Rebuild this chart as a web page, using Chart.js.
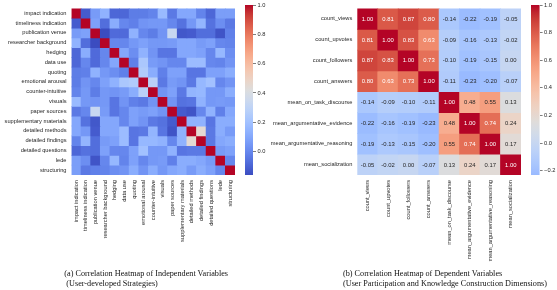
<!DOCTYPE html>
<html>
<head>
<meta charset="utf-8">
<script src="https://cdn.jsdelivr.net/npm/chart.js@4.4.1/dist/chart.umd.min.js"></script>
<style>
  html, body { margin: 0; padding: 0; background: #fff; width: 557px; height: 290px; overflow: hidden; }
  .box { position: absolute; }
  .cap { position: absolute; font-family: "Liberation Serif", "Times New Roman", serif; font-size: 8.2px; line-height: 10px; color: #111; white-space: nowrap; }
</style>
</head>
<body>
<div class="box" style="left:0;top:0"><canvas id="leftMap" width="235" height="270"></canvas></div>
<div class="box" style="left:240px;top:0"><canvas id="leftBar" width="35" height="180"></canvas></div>
<div class="box" style="left:258px;top:0"><canvas id="rightMap" width="263" height="270"></canvas></div>
<div class="box" style="left:525.7px;top:0"><canvas id="rightBar" width="32" height="180"></canvas></div>

<div class="cap" style="left:64.3px;top:269px">(a) Correlation Heatmap of Independent Variables<br>&nbsp;(User-developed Strategies)</div>
<div class="cap" style="left:343px;top:269px">(b) Correlation Heatmap of Dependent Variables<br>(User Participation and Knowledge Construction Dimensions)</div>

<script>
// independent variables (strategies)
const strategyLabels = [
  'impact indication', 'timeliness indication', 'publication venue', 'researcher background',
  'hedging', 'data use', 'quoting', 'emotional arousal', 'counter-intuitive', 'visuals',
  'paper sources', 'supplementary materials', 'detailed methods', 'detailed findings',
  'detailed questions', 'lede', 'structuring',
];

const strategyCorr = [
  [1.00, -0.12, 0.06, 0.14, -0.09, -0.09, -0.03, -0.03, -0.01, 0.17, -0.04, 0.10, 0.10, -0.01, -0.09, 0.07, 0.07],
  [-0.12, 1.00, 0.08, -0.07, 0.12, 0.00, -0.02, 0.04, 0.05, 0.05, 0.00, -0.06, 0.05, 0.15, -0.06, 0.02, -0.04],
  [0.06, 0.08, 1.00, -0.16, -0.08, -0.08, 0.14, 0.00, -0.03, 0.04, 0.33, -0.13, -0.12, -0.07, -0.07, -0.14, -0.02],
  [0.14, -0.07, -0.16, 1.00, 0.00, 0.00, 0.05, 0.08, 0.05, 0.05, 0.06, 0.10, 0.10, 0.06, 0.08, 0.00, -0.01],
  [-0.09, 0.12, -0.08, 0.00, 1.00, 0.10, 0.02, 0.14, 0.04, -0.05, -0.05, 0.10, 0.10, 0.08, 0.00, 0.16, 0.02],
  [-0.09, 0.00, -0.08, 0.00, 0.10, 1.00, -0.02, 0.23, 0.06, 0.04, 0.00, 0.00, 0.18, 0.18, 0.00, -0.01, 0.04],
  [-0.03, -0.02, 0.14, 0.05, 0.02, -0.02, 1.00, 0.25, 0.12, -0.02, 0.08, 0.08, -0.05, -0.05, 0.08, 0.08, 0.12],
  [-0.03, 0.04, 0.00, 0.08, 0.14, 0.23, 0.25, 1.00, 0.28, -0.04, 0.06, 0.04, -0.04, 0.16, 0.20, 0.00, 0.04],
  [-0.01, 0.05, -0.03, 0.05, 0.04, 0.06, 0.12, 0.28, 1.00, 0.04, 0.08, -0.04, 0.15, 0.16, 0.05, 0.05, 0.12],
  [0.17, 0.05, 0.04, 0.05, -0.05, 0.04, -0.02, -0.04, 0.04, 1.00, 0.04, -0.06, -0.05, 0.14, 0.05, 0.06, 0.05],
  [-0.04, 0.00, 0.33, 0.06, -0.05, 0.00, 0.08, 0.06, 0.08, 0.04, 1.00, -0.12, -0.14, 0.00, 0.14, -0.02, 0.10],
  [0.10, -0.06, -0.13, 0.10, 0.10, 0.00, 0.08, 0.04, -0.04, -0.06, -0.12, 1.00, 0.14, 0.14, -0.05, 0.12, 0.12],
  [0.10, 0.05, -0.12, 0.10, 0.10, 0.18, -0.05, -0.04, 0.15, -0.05, -0.14, 0.14, 1.00, 0.45, -0.04, 0.12, 0.06],
  [-0.01, 0.15, -0.07, 0.06, 0.08, 0.18, -0.05, 0.16, 0.16, 0.14, 0.00, 0.14, 0.45, 1.00, -0.04, 0.10, 0.12],
  [-0.09, -0.06, -0.07, 0.08, 0.00, 0.00, 0.08, 0.20, 0.05, 0.05, 0.14, -0.05, -0.04, -0.04, 1.00, 0.06, 0.08],
  [0.07, 0.02, -0.14, 0.00, 0.16, -0.01, 0.08, 0.00, 0.05, 0.06, -0.02, 0.12, 0.12, 0.10, 0.06, 1.00, 0.00],
  [0.07, -0.04, -0.02, -0.01, 0.02, 0.04, 0.12, 0.04, 0.12, 0.05, 0.10, 0.12, 0.06, 0.12, 0.08, 0.00, 1.00],
];

// dependent variables (participation / knowledge construction)
const outcomeLabels = [
  'count_views', 'count_upvotes', 'count_followers', 'count_answers',
  'mean_on_task_discourse', 'mean_argumentative_evidence', 'mean_argumentative_reasoning', 'mean_socialization',
];

const outcomeCorr = [
  [1.00, 0.81, 0.87, 0.80, -0.14, -0.22, -0.19, -0.05],
  [0.81, 1.00, 0.83, 0.63, -0.09, -0.16, -0.13, -0.02],
  [0.87, 0.83, 1.00, 0.73, -0.10, -0.19, -0.15, 0.00],
  [0.80, 0.63, 0.73, 1.00, -0.11, -0.23, -0.20, -0.07],
  [-0.14, -0.09, -0.10, -0.11, 1.00, 0.48, 0.55, 0.13],
  [-0.22, -0.16, -0.19, -0.23, 0.48, 1.00, 0.74, 0.24],
  [-0.19, -0.13, -0.15, -0.20, 0.55, 0.74, 1.00, 0.17],
  [-0.05, -0.02, 0.00, -0.07, 0.13, 0.24, 0.17, 1.00],
];

const leftBarTicks = [0, 0.2, 0.4, 0.6, 0.8, 1.0];
const rightBarTicks = [-0.2, 0, 0.2, 0.4, 0.6, 0.8, 1.0];

// matplotlib coolwarm, 33 evenly spaced control points
const CW_R = [0.2298057, 0.26623388, 0.30386891, 0.342804478, 0.38301334, 0.424369608, 0.46666708, 0.509635204, 0.552953156, 0.596262162, 0.639176211, 0.681291281, 0.722193294, 0.761464949, 0.798691636, 0.833466556, 0.865395197, 0.897787179, 0.924127593, 0.944468518, 0.958852946, 0.96732803, 0.969954137, 0.966811177, 0.958003065, 0.943660866, 0.923944917, 0.89904617, 0.869186849, 0.834620542, 0.795631745, 0.752534934, 0.705673158];
const CW_G = [0.298717966, 0.353094838, 0.406535296, 0.458757618, 0.50941904, 0.558148092, 0.604562568, 0.648280772, 0.688929332, 0.726149107, 0.759599947, 0.788964712, 0.813952739, 0.834302879, 0.849786142, 0.860207984, 0.86541021, 0.848937047, 0.827384882, 0.800927443, 0.769767752, 0.734132809, 0.694266682, 0.650421156, 0.602842431, 0.551750968, 0.49730856, 0.439559467, 0.378313092, 0.312874446, 0.24128379, 0.157246067, 0.01555616];
const CW_B = [0.753683153, 0.801466763, 0.84495867, 0.883725899, 0.917387822, 0.945619588, 0.968154911, 0.98478814, 0.995375608, 0.999836203, 0.998151185, 0.990363227, 0.976574709, 0.956945269, 0.931688648, 0.901068838, 0.865395561, 0.820880546, 0.774508472, 0.726736146, 0.678007945, 0.628751763, 0.579375448, 0.530263762, 0.481775914, 0.434243684, 0.387970225, 0.343229596, 0.300267182, 0.259301199, 0.220525627, 0.184115123, 0.150232812];

const TEXT = '#262626';
const SANS = '"Liberation Sans", Arial, Helvetica, sans-serif';

function coolwarm(t) {
  t = Math.min(1, Math.max(0, t));
  const p = t * 32;
  const i = Math.min(31, Math.floor(p));
  const f = p - i;
  const mix = (arr) => Math.round(255 * (arr[i] + (arr[i + 1] - arr[i]) * f));
  return [mix(CW_R), mix(CW_G), mix(CW_B)];
}

const rgb = (c) => `rgb(${c[0]},${c[1]},${c[2]})`;

const leftMin = Math.min(...strategyCorr.flat());
const rightMin = Math.min(...outcomeCorr.flat());

// left: plain min..1 range; right: map centred a little above 0 (grey near 0.14)
const RIGHT_CENTER = 0.14;
const leftColor = (v) => coolwarm((v - leftMin) / (1 - leftMin));
const rightColor = (v) => coolwarm(0.5 + (v - RIGHT_CENTER) / (2 * (1 - RIGHT_CENTER)));

function luminance(c) {
  const lin = c.map((x) => {
    const s = x / 255;
    return s <= 0.03928 ? s / 12.92 : ((s + 0.055) / 1.055) ** 2.4;
  });
  return 0.2126 * lin[0] + 0.7152 * lin[1] + 0.0722 * lin[2];
}

const cellText = {
  id: 'cellText',
  afterDatasetsDraw(chart, args, opts) {
    if (!opts.show) return;
    const { ctx } = chart;
    ctx.save();
    ctx.font = `5.9px ${SANS}`;
    ctx.textAlign = 'center';
    ctx.textBaseline = 'middle';
    chart.data.datasets.forEach((ds, r) => {
      chart.getDatasetMeta(r).data.forEach((bar, c) => {
        const v = ds.values[c];
        const col = opts.colorFn(v);
        ctx.fillStyle = luminance(col) > 0.408 ? TEXT : '#ffffff';
        ctx.fillText(v.toFixed(2), bar.x, (bar.y + bar.base) / 2 + 0.3);
      });
    });
    ctx.restore();
  },
};

function drawHeatmap(id, labels, matrix, colorFn, yWidth, annotate) {
  const n = labels.length;
  const datasets = matrix.map((row, r) => ({
    data: row.map(() => [r, r + 1]),
    values: row,
    backgroundColor: row.map((v) => rgb(colorFn(v))),
    borderWidth: 0,
    grouped: false,
    barPercentage: 1,
    categoryPercentage: 1,
    inflateAmount: 0.4,
  }));

  return new Chart(document.getElementById(id), {
    type: 'bar',
    data: { labels, datasets },
    plugins: [cellText],
    options: {
      responsive: false,
      animation: false,
      layout: { padding: { top: 5, left: 0, right: 0, bottom: 0 } },
      plugins: {
        legend: { display: false },
        tooltip: { enabled: false },
        cellText: { show: annotate, colorFn },
      },
      scales: {
        x: {
          type: 'category',
          grid: { display: false, drawTicks: false },
          border: { display: false },
          ticks: {
            autoSkip: false,
            minRotation: 90,
            maxRotation: 90,
            padding: 5,
            color: TEXT,
            font: { family: SANS, size: 5.7 },
          },
          afterFit(scale) {
            scale.height = 95;
            scale.paddingLeft = 0;
            scale.paddingRight = 0;
          },
        },
        y: {
          type: 'linear',
          min: 0,
          max: n,
          reverse: true,
          grid: { display: false, drawTicks: false },
          border: { display: false },
          afterBuildTicks(scale) {
            scale.ticks = labels.map((_, i) => ({ value: i + 0.5 }));
          },
          ticks: {
            padding: 5,
            color: TEXT,
            font: { family: SANS, size: 5.7 },
            callback: (value, index) => labels[index],
          },
          afterFit(scale) {
            scale.width = yWidth;
          },
        },
      },
    },
  });
}

function drawColorbar(id, vmin, tickValues, colorFn, yWidth) {
  return new Chart(document.getElementById(id), {
    type: 'bar',
    data: {
      labels: [''],
      datasets: [{
        data: [[vmin, 1]],
        borderWidth: 0,
        barPercentage: 1,
        categoryPercentage: 1,
        backgroundColor(context) {
          const area = context.chart.chartArea;
          if (!area) return null;
          const g = context.chart.ctx.createLinearGradient(0, area.bottom, 0, area.top);
          for (let i = 0; i <= 48; i += 1) {
            const s = i / 48;
            g.addColorStop(s, rgb(colorFn(vmin + s * (1 - vmin))));
          }
          return g;
        },
      }],
    },
    options: {
      responsive: false,
      animation: false,
      layout: { padding: { top: 5, left: 5, right: 0, bottom: 5 } },
      plugins: { legend: { display: false }, tooltip: { enabled: false } },
      scales: {
        x: { display: false },
        y: {
          position: 'right',
          min: vmin,
          max: 1,
          grid: { drawOnChartArea: false, drawTicks: true, tickLength: 3, color: TEXT, lineWidth: 0.6 },
          border: { display: false },
          afterBuildTicks(scale) {
            scale.ticks = tickValues.map((v) => ({ value: v }));
          },
          ticks: {
            padding: 1.5,
            color: TEXT,
            font: { family: SANS, size: 5.7 },
            callback: (value) => (value < 0 ? '\u2212' : '') + Math.abs(value).toFixed(1),
          },
          afterFit(scale) {
            scale.width = yWidth;
          },
        },
      },
    },
  });
}

drawHeatmap('leftMap', strategyLabels, strategyCorr, leftColor, 71.5, false);
drawColorbar('leftBar', leftMin, leftBarTicks, leftColor, 22);
drawHeatmap('rightMap', outcomeLabels, outcomeCorr, rightColor, 99.3, true);
drawColorbar('rightBar', rightMin, rightBarTicks, rightColor, 18.4);
</script>
</body>
</html>
